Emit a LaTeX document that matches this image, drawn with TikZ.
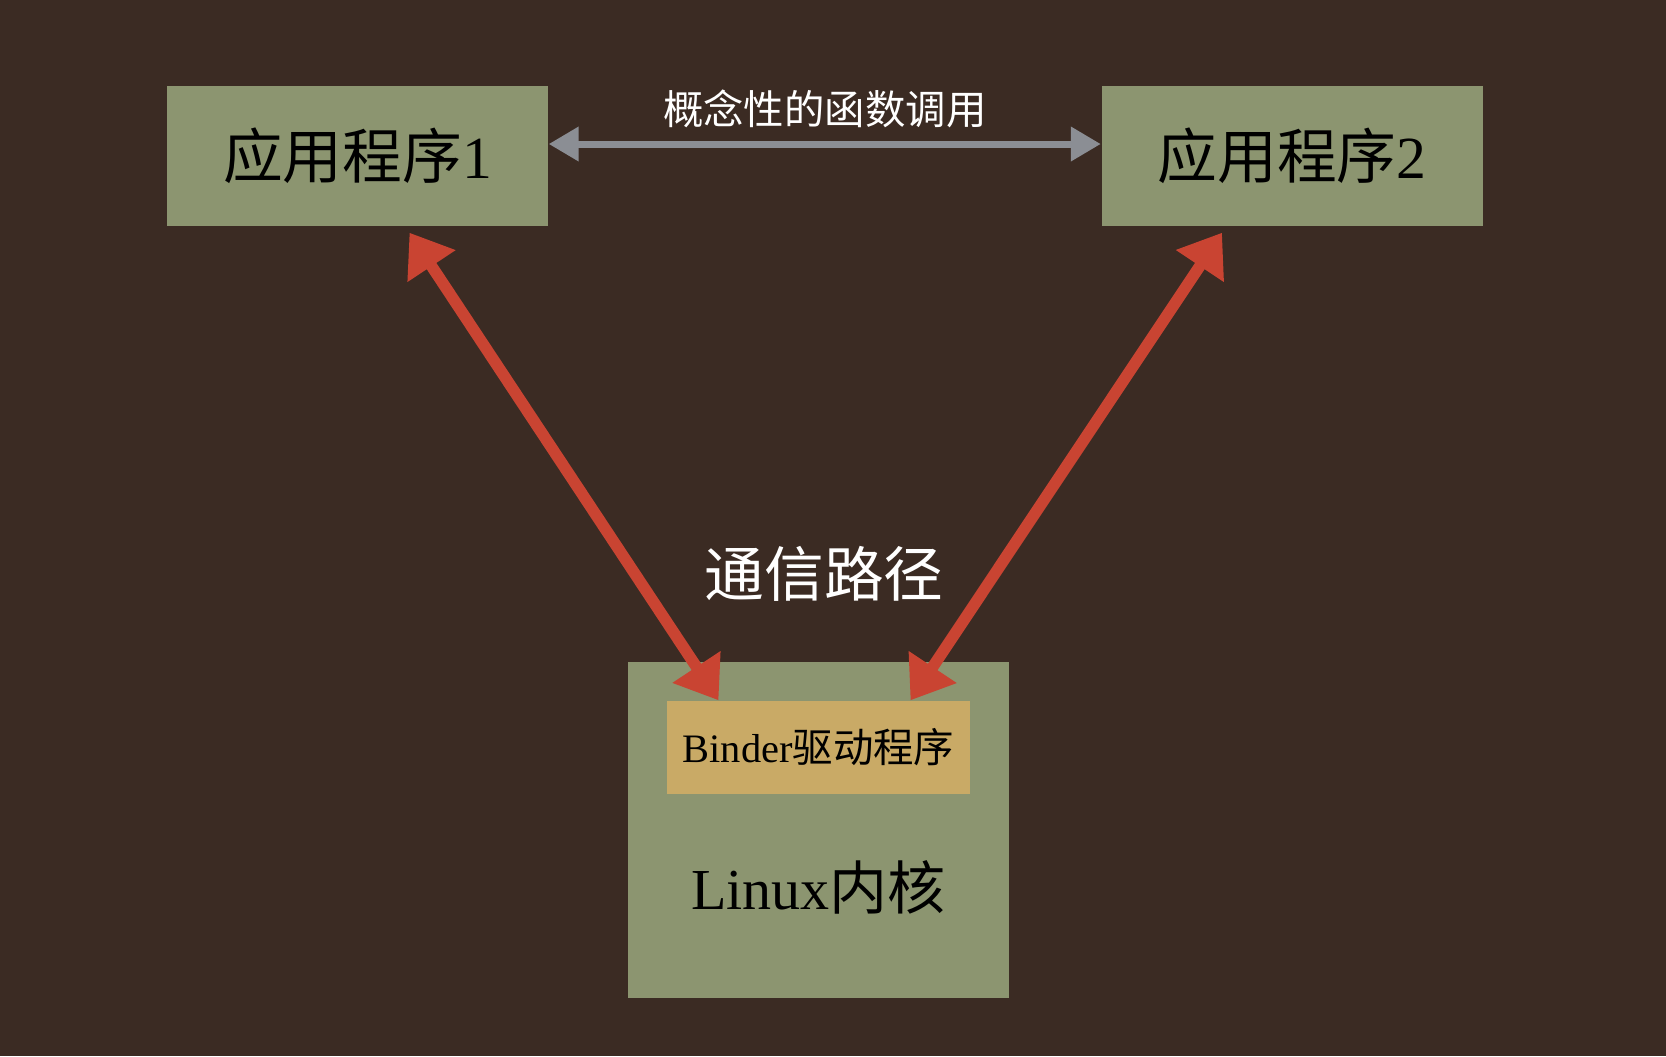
\documentclass[tikz,border=0pt]{standalone}
\usepackage{fontspec}
\setmainfont{Liberation Serif}
\newfontfamily\cjk{Noto Sans CJK SC}
\usetikzlibrary{arrows.meta,positioning}
\newcommand{\zh}[1]{{\cjk #1}}
\definecolor{leather}{HTML}{3B2B23}
\definecolor{olive}{HTML}{8C9570}
\definecolor{sand}{HTML}{C9AA66}
\definecolor{brick}{HTML}{C94432}
\definecolor{steel}{HTML}{8B8E94}

\begin{document}
\begin{tikzpicture}[
  app/.style={fill=olive,inner sep=0pt,minimum width=38.1mm,minimum height=14mm,
              font=\fontsize{17pt}{20pt}\selectfont},
  kern/.style={fill=olive,inner sep=0pt,minimum width=38.1mm,minimum height=33.6mm},
  drv/.style={fill=sand,inner sep=0pt,minimum width=30.3mm,minimum height=9.3mm,
              font=\fontsize{11.5pt}{14pt}\selectfont},
  ipc/.style={brick,line width=1.15mm,
              {Triangle[length=4mm,width=5.5mm]}-{Triangle[length=4mm,width=5.5mm]}},
  call/.style={steel,line width=0.7mm,
              {Triangle[length=3mm,width=3.3mm]}-{Triangle[length=3mm,width=3.3mm]}}
]
\fill[leather] (0,0) rectangle (16.66,-10.56);
\node[app] (app1) at (3.575,-1.56) {\zh{应用程序}1};
\node[app] (app2) at (12.92,-1.56) {\zh{应用程序}2};
\node[kern] (kernel) at (8.185,-8.30) {};
\node[drv] (binder) at (8.185,-7.475) {Binder\zh{驱动程序}};
\node[font=\fontsize{16.5pt}{20pt}\selectfont] (linux) at ([yshift=-5.7mm]kernel.center) {Linux\zh{内核}};
\node[white,font=\fontsize{17pt}{20pt}\selectfont] (route) at (8.24,-5.74) {\zh{通信路径}};
\draw[call] ([yshift=1.2mm]app1.east) -- ([yshift=1.2mm]app2.west)
  node[midway,above=0.1mm,white,font=\fontsize{11.5pt}{14pt}\selectfont]{\zh{概念性的函数调用}};
\draw[ipc] ([xshift=5.2mm,yshift=-0.6mm]app1.south) -- ([xshift=-10mm]binder.north);
\draw[ipc] ([xshift=-7mm,yshift=-0.6mm]app2.south) -- ([xshift=9.2mm]binder.north);
\end{tikzpicture}
\end{document}
